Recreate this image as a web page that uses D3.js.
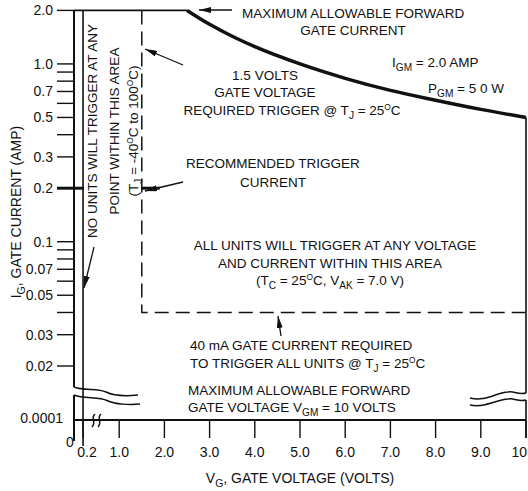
<!DOCTYPE html>
<html><head><meta charset="utf-8">
<script src="https://cdn.jsdelivr.net/npm/d3@7"></script>
<style>
html,body{margin:0;padding:0;background:#fff;}
svg{display:block;}
text{font-family:"Liberation Sans",Arial,sans-serif;fill:#111;}
</style></head>
<body>
<script>
// ---- data ----
const yMajorTicks = [2.0, 1.0, 0.7, 0.5, 0.3, 0.2, 0.1, 0.07, 0.05, 0.03, 0.02];
const yMajorLabels = ["2.0","1.0","0.7","0.5","0.3","0.2","0.1","0.07","0.05","0.03","0.02"];
const yMinorTicks = [0.9, 0.8, 0.6, 0.4, 0.09, 0.08, 0.06, 0.04];
const xTicks = [0.2, 1, 2, 3, 4, 5, 6, 7, 8, 9, 10];
const xLabels = ["0.2","1.0","2.0","3.0","4.0","5.0","6.0","7.0","8.0","9.0","10"];
const curveV = [0, 2.5, 3, 3.5, 4, 5, 6, 7, 8, 9, 10];
const curveI = [2.0, 2.0, 1.67, 1.43, 1.25, 1.0, 0.83, 0.71, 0.625, 0.555, 0.5];
const trigV = 1.5, trigI = 0.04, recI = 0.2, minV = 0.2;

const W = 528, H = 491;
const svg = d3.select("body").append("svg").attr("width", W).attr("height", H);
const x = d3.scaleLinear().domain([0, 10]).range([74, 526]);
const y = d3.scaleLog().domain([0.02, 2]).range([366, 10.4]);
const baseY = 420; // 0.0001 / x-axis line after the break
const ink = "#111";

function rich(sel, parts, fs) {
  let off = 0;
  parts.forEach(p => {
    let txt, shift = 0, size = null;
    if (typeof p === "string") txt = p;
    else if (p.sub) { txt = p.sub; shift = 4; size = fs * 0.75; }
    else if (p.sup) { txt = p.sup; shift = -5; size = fs * 0.62; }
    const ts = sel.append("tspan").text(txt).attr("font-size", size || fs);
    if (shift - off !== 0) ts.attr("dy", shift - off);
    off = shift;
  });
}
function label(px, py, parts, opts = {}) {
  const fs = opts.fs || 13.5;
  const t = svg.append("text").attr("x", px).attr("y", py).attr("font-size", fs)
    .attr("text-anchor", opts.anchor || "start");
  if (opts.rotate) t.attr("transform", `rotate(${opts.rotate},${px},${py})`);
  rich(t, typeof parts === "string" ? [parts] : parts, fs);
  return t;
}

// ---- axes frame ----
svg.append("line").attr("x1", x(0)).attr("x2", x(0)).attr("y1", y(2)).attr("y2", 387).attr("stroke", ink).attr("stroke-width", 2);
svg.append("line").attr("x1", x(0)).attr("x2", x(0)).attr("y1", 395).attr("y2", 441).attr("stroke", ink).attr("stroke-width", 2);
svg.append("line").attr("x1", x(minV)).attr("x2", x(minV)).attr("y1", y(2)).attr("y2", 446).attr("stroke", ink).attr("stroke-width", 1.6);
svg.append("line").attr("x1", x(0)).attr("x2", x(10)).attr("y1", baseY).attr("y2", baseY).attr("stroke", ink).attr("stroke-width", 2);
svg.append("line").attr("x1", x(10)).attr("x2", x(10)).attr("y1", y(curveI[curveI.length-1])).attr("y2", 393).attr("stroke", ink).attr("stroke-width", 1.6);
svg.append("line").attr("x1", x(10)).attr("x2", x(10)).attr("y1", 400).attr("y2", 438).attr("stroke", ink).attr("stroke-width", 1.6);

// y ticks
svg.selectAll(".ymaj").data(yMajorTicks).enter().append("line")
  .attr("x1", 57).attr("x2", x(0)).attr("y1", d => y(d)).attr("y2", d => y(d))
  .attr("stroke", ink).attr("stroke-width", 1.4);
svg.selectAll(".ymin").data(yMinorTicks).enter().append("line")
  .attr("x1", 57).attr("x2", x(0)).attr("y1", d => y(d)).attr("y2", d => y(d))
  .attr("stroke", ink).attr("stroke-width", 1.4);
svg.selectAll(".ylab").data(yMajorTicks).enter().append("text")
  .attr("x", 53).attr("y", d => y(d) + 5).attr("text-anchor", "end").attr("font-size", 14)
  .text((d, i) => yMajorLabels[i]);
svg.append("text").attr("x", 63).attr("y", 423).attr("text-anchor", "end").attr("font-size", 14).text("0.0001");
svg.append("text").attr("x", 70).attr("y", 447).attr("text-anchor", "middle").attr("font-size", 14).text("0");

// recommended trigger current thick marks
svg.append("line").attr("x1", 57).attr("x2", x(minV) + 1).attr("y1", y(recI)).attr("y2", y(recI)).attr("stroke", ink).attr("stroke-width", 3);
svg.append("line").attr("x1", x(trigV)).attr("x2", x(trigV) + 18).attr("y1", y(recI)).attr("y2", y(recI)).attr("stroke", ink).attr("stroke-width", 3);

// x ticks
svg.selectAll(".xt").data(xTicks).enter().append("line")
  .attr("x1", d => x(d)).attr("x2", d => x(d)).attr("y1", baseY).attr("y2", 438)
  .attr("stroke", ink).attr("stroke-width", 1.4);
svg.selectAll(".xl").data(xTicks).enter().append("text")
  .attr("x", d => d === 10 ? 527 : x(d)).attr("y", 457).attr("text-anchor", d => d === 10 ? "end" : "middle")
  .attr("dx", d => d === 0.2 ? 4 : 0)
  .attr("font-size", 14).text((d, i) => xLabels[i]);

// breaks
const breakPath = (x0, y0, x1, y1) => {
  const mx = (x0 + x1) / 2;
  return `M${x0},${y0} C${x0 + 10},${y0 + 4} ${mx - 8},${(y0 + y1) / 2 - 3} ${mx},${(y0 + y1) / 2 + 1} S${x1 - 10},${y1 + 1} ${x1},${y1}`;
};
[[74, 387, 138, 395], [74, 395, 140, 404]].forEach(b =>
  svg.append("path").attr("d", breakPath(...b)).attr("fill", "none").attr("stroke", ink).attr("stroke-width", 1.5));
svg.append("path").attr("d", "M470,398 C485,402 495,393 508,392 C515,391 518,395 526,393").attr("fill", "none").attr("stroke", ink).attr("stroke-width", 1.5);
svg.append("path").attr("d", "M470,405 C485,408 495,400 508,399 C515,398 518,402 526,400").attr("fill", "none").attr("stroke", ink).attr("stroke-width", 1.5);
// x-axis break squiggles
[[93], [99]].forEach(([bx]) =>
  svg.append("path").attr("d", `M${bx + 2},${baseY - 6} C${bx - 3},${baseY - 2} ${bx + 4},${baseY + 2} ${bx - 1},${baseY + 7}`)
    .attr("fill", "none").attr("stroke", ink).attr("stroke-width", 1.5));

// ---- max current + power curve ----
const line = d3.line().x((d, i) => x(curveV[i])).y((d, i) => y(curveI[i]));
svg.append("path").datum(curveV.slice(0, 2)).attr("d", line).attr("fill", "none").attr("stroke", ink).attr("stroke-width", 1.6);
const curveLine = d3.line().x(d => x(d[0])).y(d => y(d[1])).curve(d3.curveMonotoneX);
svg.append("path").datum(curveV.slice(1).map((v, i) => [v, curveI[i + 1]])).attr("d", curveLine)
  .attr("fill", "none").attr("stroke", ink).attr("stroke-width", 3.5);

// ---- trigger region dashed ----
svg.append("path").attr("d", `M${x(trigV)},${y(2)} L${x(trigV)},${y(trigI)} L${x(10)},${y(trigI)}`)
  .attr("fill", "none").attr("stroke", ink).attr("stroke-width", 1.5).attr("stroke-dasharray", "14,7");

// ---- arrows ----
svg.append("defs").append("marker").attr("id", "ah").attr("viewBox", "0 0 12 6").attr("refX", 12).attr("refY", 3)
  .attr("markerWidth", 12).attr("markerHeight", 6).attr("markerUnits", "userSpaceOnUse").attr("orient", "auto")
  .append("path").attr("d", "M0,0 L12,3 L0,6 Z").attr("fill", ink);
const arrows = [[232, 10, 199, 10], [183, 65, 145, 49], [183, 182, 145, 191], [94, 247, 84, 288], [281, 336, 278, 316]];
arrows.forEach(a => svg.append("line").attr("x1", a[0]).attr("y1", a[1]).attr("x2", a[2]).attr("y2", a[3])
  .attr("stroke", ink).attr("stroke-width", 1.3).attr("marker-end", "url(#ah)"));

// ---- annotations ----
label(242, 18, "MAXIMUM ALLOWABLE FORWARD");
label(353, 35, "GATE CURRENT", { anchor: "middle" });
label(392, 67, ["I", { sub: "GM" }, " = 2.0 AMP"]);
label(428, 93, ["P", { sub: "GM" }, " = 5 0 W"]);
label(265, 80, "1.5 VOLTS", { anchor: "middle" });
label(265, 97, "GATE VOLTAGE", { anchor: "middle" });
label(292, 115, ["REQUIRED TRIGGER @ T", { sub: "J" }, " = 25", { sup: "O" }, "C"], { anchor: "middle" });
label(273, 168, "RECOMMENDED TRIGGER", { anchor: "middle" });
label(273, 187, "CURRENT", { anchor: "middle" });
label(335, 250, "ALL UNITS WILL TRIGGER AT ANY VOLTAGE", { anchor: "middle" });
label(330, 268, "AND CURRENT WITHIN THIS AREA", { anchor: "middle" });
label(330, 285, ["(T", { sub: "C" }, " = 25", { sup: "O" }, "C, V", { sub: "AK" }, " = 7.0 V)"], { anchor: "middle" });
label(190, 350, "40 mA GATE CURRENT REQUIRED");
label(190, 368, ["TO TRIGGER ALL UNITS @ T", { sub: "J" }, " = 25", { sup: "O" }, "C"]);
label(188, 395, "MAXIMUM ALLOWABLE FORWARD");
label(188, 412, ["GATE VOLTAGE V", { sub: "GM" }, " = 10 VOLTS"]);

label(97, 131, "NO UNITS WILL TRIGGER AT ANY", { anchor: "middle", rotate: -90 });
label(119, 131, "POINT WITHIN THIS AREA", { anchor: "middle", rotate: -90 });
label(138, 131, ["(T", { sub: "J" }, " = -40", { sup: "O" }, "C to 100", { sup: "O" }, "C)"], { anchor: "middle", rotate: -90 });

// axis titles
label(300, 483, ["V", { sub: "G" }, ", GATE VOLTAGE (VOLTS)"], { anchor: "middle", fs: 14 });
label(21, 212, ["I", { sub: "G" }, ", GATE CURRENT (AMP)"], { anchor: "middle", fs: 14, rotate: -90 });
</script>
</body></html>
